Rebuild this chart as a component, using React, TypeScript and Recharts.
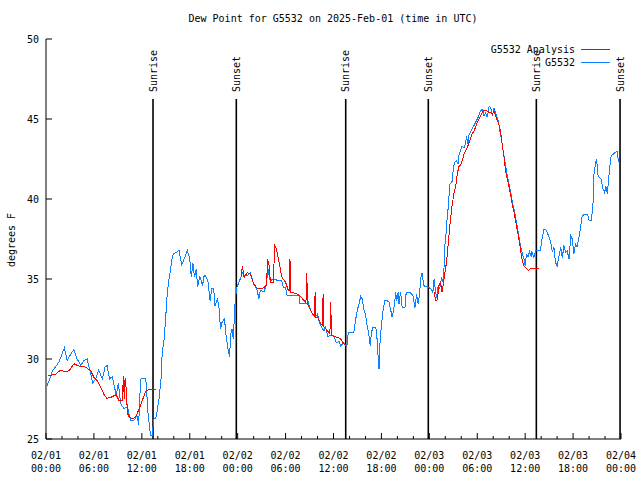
import React from "react";
import {
  LineChart,
  Line,
  XAxis,
  YAxis,
  ReferenceLine,
  Legend,
} from "recharts";

const FONT = '"DejaVu Sans Mono", monospace';
const BLUE = "#0c80ff";
const RED = "#ff0000";

// hours since 02/01 00:00 UTC
const majorHours = [0, 6, 12, 18, 24, 30, 36, 42, 48, 54, 60, 66, 72];
const dayLabels = ["02/01", "02/01", "02/01", "02/01", "02/02", "02/02", "02/02", "02/02", "02/03", "02/03", "02/03", "02/03", "02/04"];
const clockLabels = ["00:00", "06:00", "12:00", "18:00", "00:00", "06:00", "12:00", "18:00", "00:00", "06:00", "12:00", "18:00", "00:00"];
const minorHours = [0, 2, 4, 6, 8, 10, 12, 14, 16, 18, 20, 22, 24, 26, 28, 30, 32, 34, 36, 38, 40, 42, 44, 46, 48, 50, 52, 54, 56, 58, 60, 62, 64, 66, 68, 70, 72];
const yTicks = [25, 30, 35, 40, 45, 50];

const sunHours = [13.4, 23.83, 37.53, 47.87, 61.4, 71.88];
const sunLabels = ["Sunrise", "Sunset", "Sunrise", "Sunset", "Sunrise", "Sunset"];

// G5532 observations [hour, dew point F]
const stationObs: [number, number][] = [
  [0.1, 28.3], [0.5, 28.8], [0.85, 29.3], [1.2, 29.5], [1.6, 29.8], [2.0, 30.3], [2.3, 30.7], [2.65, 29.9],
  [3.1, 30.3], [3.5, 30.6], [3.9, 30.0], [4.35, 29.6], [4.75, 29.9], [5.15, 30.0], [5.55, 29.2], [5.85, 28.5],
  [6.2, 28.75], [6.6, 29.3], [7.05, 28.75], [7.4, 29.5], [7.65, 29.6], [7.95, 28.75], [8.3, 28.9], [8.6, 28.2],
  [8.8, 27.7], [9.05, 28.5], [9.35, 27.2], [9.75, 26.9], [10.2, 27.0], [10.6, 26.15], [11.0, 26.15], [11.4, 26.45],
  [11.6, 25.9], [11.85, 28.75], [12.25, 28.8], [12.5, 28.75], [12.8, 26.45], [13.1, 25.2], [13.3, 25.2], [13.5, 26.25],
  [13.75, 26.3], [13.9, 26.7], [14.15, 27.5], [14.4, 28.75], [14.55, 30.4], [14.8, 31.25], [15.0, 32.7], [15.2, 34.2],
  [15.4, 35.0], [15.6, 35.6], [15.8, 36.35], [16.0, 36.6], [16.45, 36.7], [16.65, 36.8], [17.0, 35.9], [17.3, 36.25],
  [17.7, 36.8], [18.0, 36.25], [18.2, 35.1], [18.4, 36.0], [18.6, 35.1], [18.8, 35.6], [19.0, 34.5], [19.25, 35.2],
  [19.6, 34.6], [19.8, 35.2], [20.0, 35.2], [20.3, 34.8], [20.55, 33.65], [20.75, 34.4], [21.0, 34.4], [21.15, 33.3],
  [21.45, 33.75], [21.65, 33.3], [21.85, 31.9], [22.05, 32.3], [22.35, 32.5], [22.55, 31.45], [22.8, 30.6], [23.0, 30.1],
  [23.1, 31.45], [23.3, 31.9], [23.45, 31.25], [23.65, 33.3], [23.85, 34.4], [24.15, 34.8], [24.4, 35.1], [24.6, 35.4],
  [24.8, 35.2], [25.2, 35.2], [25.6, 35.4], [26.0, 34.7], [26.45, 34.3], [26.65, 33.75], [26.85, 34.3], [27.3, 34.2],
  [27.6, 34.7], [27.8, 35.6], [28.1, 34.8], [28.35, 35.0], [28.75, 34.95], [29.2, 34.9], [29.5, 34.9], [29.7, 34.5],
  [30.0, 34.45], [30.2, 33.96], [30.6, 34.0], [31.05, 34.0], [31.7, 33.96], [31.75, 33.5], [32.3, 33.5], [32.6, 33.45],
  [32.85, 33.55], [33.1, 33.1], [33.35, 32.8], [33.7, 32.6], [34.0, 32.8], [34.2, 32.33], [34.5, 31.98], [34.8, 31.77],
  [35.0, 31.98], [35.3, 31.4], [35.65, 31.5], [36.05, 31.45], [36.35, 31.0], [36.7, 31.1], [36.9, 30.83], [37.3, 31.0],
  [37.5, 30.83], [37.7, 30.9], [37.85, 31.67], [38.55, 31.67], [38.75, 32.4], [39.0, 33.1], [39.2, 33.44], [39.4, 33.9],
  [39.6, 33.75], [39.8, 33.1], [40.0, 32.8], [40.2, 32.1], [40.45, 31.45], [40.6, 30.83], [40.75, 31.67], [40.95, 31.98],
  [41.3, 31.98], [41.5, 31.04], [41.6, 30.0], [41.7, 29.4], [41.8, 30.83], [42.0, 32.1], [42.2, 33.0], [42.4, 33.64],
  [42.75, 33.64], [42.95, 33.55], [43.15, 33.1], [43.35, 32.6], [43.6, 33.3], [43.8, 34.17], [43.9, 33.64], [44.1, 34.17],
  [44.2, 33.44], [44.4, 34.17], [44.6, 33.2], [44.95, 33.2], [45.1, 34.17], [45.65, 34.13], [45.95, 33.96], [46.2, 33.2],
  [46.4, 34.06], [46.6, 33.44], [46.8, 34.17], [46.9, 35.0], [47.1, 35.4], [47.3, 34.58], [47.75, 34.5], [48.2, 34.4],
  [48.45, 34.17], [48.6, 35.0], [48.8, 34.1], [49.0, 33.75], [49.1, 34.58], [49.3, 34.4], [49.55, 35.1], [49.7, 34.8],
  [49.85, 35.8], [49.95, 37.1], [50.1, 37.9], [50.25, 38.96], [50.4, 39.6], [50.55, 40.9], [50.7, 41.0], [50.85, 41.1],
  [51.0, 41.9], [51.15, 42.3], [51.4, 42.4], [51.6, 42.2], [51.7, 42.7], [51.9, 43.0], [52.1, 43.3], [52.35, 43.2],
  [52.55, 43.5], [52.65, 43.96], [52.85, 43.4], [52.95, 43.96], [53.15, 44.17], [53.35, 44.4], [53.6, 44.6], [53.8, 44.8],
  [54.0, 45.0], [54.2, 45.2], [54.4, 45.5], [54.6, 45.6], [54.85, 45.2], [55.05, 45.4], [55.25, 45.1], [55.5, 45.8],
  [55.7, 45.7], [55.9, 45.2], [56.1, 45.7], [56.3, 45.4], [56.5, 45.1], [56.7, 44.7], [56.9, 44.06], [57.1, 43.5],
  [57.35, 42.7], [57.55, 42.1], [57.75, 41.46], [57.95, 41.0], [58.2, 40.4], [58.4, 39.8], [58.6, 39.4], [58.8, 38.85],
  [59.0, 38.3], [59.2, 37.7], [59.4, 37.1], [59.6, 36.7], [59.85, 36.25], [60.0, 35.8], [60.15, 36.5], [60.35, 36.4],
  [60.55, 36.7], [60.75, 36.4], [60.85, 36.7], [61.1, 36.35], [61.3, 36.77], [61.9, 36.77], [62.1, 37.5], [62.35, 38.1],
  [62.55, 38.1], [62.75, 37.9], [62.95, 37.7], [63.2, 37.3], [63.4, 36.67], [63.6, 37.0], [63.8, 36.04], [64.0, 35.8],
  [64.2, 36.35], [64.45, 37.0], [64.65, 36.3], [64.85, 37.1], [65.05, 36.67], [65.25, 36.77], [65.5, 36.25], [65.7, 37.7],
  [65.9, 37.5], [66.1, 36.56], [66.3, 37.2], [66.5, 37.0], [66.7, 37.5], [66.9, 38.1], [67.1, 38.85], [67.35, 39.06],
  [67.55, 39.06], [67.85, 39.0], [68.0, 38.65], [68.3, 38.65], [68.5, 39.8], [68.6, 41.46], [68.8, 42.2], [68.95, 42.5],
  [69.1, 41.5], [69.3, 41.35], [69.5, 41.25], [69.7, 40.7], [69.95, 40.4], [70.1, 40.8], [70.3, 40.3], [70.4, 41.0],
  [70.6, 41.98], [70.7, 42.6], [70.9, 42.75], [71.25, 42.9], [71.5, 43.0], [71.7, 42.3],
];

// G5532 Analysis [hour, dew point F]; null marks a gap
const analysis: [number, number | null][] = [
  [0.3, 28.96], [1.2, 29.05], [1.8, 29.3], [2.45, 29.2], [2.9, 29.27], [3.5, 29.7], [4.1, 29.56], [4.75, 29.56],
  [5.2, 29.4], [5.6, 29.27], [6.0, 28.85], [6.4, 28.65], [6.85, 28.23], [7.25, 27.8], [7.6, 27.54], [8.1, 27.6],
  [8.5, 27.7], [8.8, 27.75], [9.15, 27.4], [9.55, 27.4], [9.7, 28.96], [9.8, 27.5], [9.9, 28.8], [10.05, 28.1],
  [10.2, 26.6], [10.4, 26.4], [10.8, 26.25], [11.2, 26.35], [11.6, 26.8], [12.05, 27.4], [12.5, 28.0], [12.9, 28.1],
  [13.8, 28.1], [14.0, null],
  [24.45, 35.2], [24.6, 35.83], [24.8, 35.1], [25.2, 35.4], [25.6, 35.3], [26.0, 34.7], [26.45, 34.4], [27.1, 34.4],
  [27.6, 34.6], [27.75, 36.15], [27.9, 36.0], [28.1, 34.8], [28.45, 34.8], [28.65, 37.1], [28.85, 36.9], [29.1, 36.25],
  [29.3, 35.73], [29.5, 35.2], [29.7, 35.0], [30.0, 34.8], [30.35, 34.27], [30.5, 34.3], [30.55, 36.25], [30.65, 34.17],
  [30.85, 34.17], [31.45, 34.06], [32.0, 33.85], [32.3, 33.65], [32.55, 33.5], [32.65, 35.4], [32.75, 33.44], [33.1, 33.1],
  [33.4, 32.8], [33.6, 32.7], [33.7, 34.17], [33.8, 32.6], [34.0, 32.6], [34.4, 32.2], [34.6, 32.1], [34.7, 34.06],
  [34.8, 32.0], [35.0, 31.9], [35.4, 31.67], [35.55, 31.6], [35.65, 33.54], [35.75, 31.46], [36.5, 31.35], [36.9, 31.25],
  [37.3, 30.94], [37.7, 30.83], [38.0, null],
  [48.6, 34.17], [48.8, 33.65], [49.0, 33.7], [49.2, 34.58], [49.4, 34.8], [49.6, 34.17], [49.75, 34.7], [49.95, 35.4],
  [50.15, 36.04], [50.4, 37.4], [50.6, 38.5], [50.75, 39.17], [50.85, 39.6], [51.1, 40.4], [51.3, 40.8], [51.5, 41.56],
  [51.7, 42.04], [51.9, 42.1], [52.1, 42.4], [52.35, 42.8], [52.55, 43.0], [52.75, 43.2], [52.95, 43.5], [53.15, 43.75],
  [53.35, 44.06], [53.6, 44.27], [53.8, 44.5], [54.0, 44.8], [54.2, 45.0], [54.4, 45.2], [54.6, 45.4], [54.85, 45.55],
  [55.25, 45.5], [55.5, 45.4], [55.7, 45.4], [55.9, 45.3], [56.1, 45.5], [56.3, 45.2], [56.5, 44.9], [56.7, 44.7],
  [56.9, 44.27], [57.1, 43.5], [57.35, 42.6], [57.55, 41.77], [57.75, 41.25], [57.95, 40.85], [58.2, 40.2], [58.4, 39.6],
  [58.6, 39.2], [58.8, 38.65], [59.0, 38.1], [59.2, 37.5], [59.4, 36.9], [59.6, 36.25], [59.85, 35.8], [60.05, 35.7],
  [60.25, 35.6], [60.45, 35.55], [60.65, 35.65], [61.1, 35.65], [61.5, 35.65], [61.7, 35.65],
];

const obsData = stationObs.map(([t, v]) => ({ t, v }));
const analysisData = analysis.map(([t, v]) => ({ t, v }));

const legendItems = [
  { label: "G5532 Analysis", color: RED },
  { label: "G5532", color: BLUE },
];

const textStyle = { fontFamily: FONT, fontSize: 10, fill: "#000" };

function BottomTick({ x, y, payload }: any) {
  const i = majorHours.indexOf(payload.value);
  return (
    <g>
      <line x1={x} x2={x} y1={y} y2={y - (i >= 0 ? 6 : 3)} stroke="#000" />
      {i >= 0 && (
        <text textAnchor="middle" {...textStyle}>
          <tspan x={x} y={y + 20}>{dayLabels[i]}</tspan>
          <tspan x={x} y={y + 33}>{clockLabels[i]}</tspan>
        </text>
      )}
    </g>
  );
}

function TopTick({ x, y, payload }: any) {
  const major = majorHours.includes(payload.value);
  return <line x1={x} x2={x} y1={y} y2={y + (major ? 6 : 3)} stroke="#000" />;
}

function LeftTick({ x, y, payload }: any) {
  return (
    <g>
      <line x1={x} x2={x + 6} y1={y} y2={y} stroke="#000" />
      <text x={x - 7} y={y} dy="0.35em" textAnchor="end" {...textStyle}>
        {payload.value}
      </text>
    </g>
  );
}

function RightTick({ x, y }: any) {
  return <line x1={x} x2={x - 6} y1={y} y2={y} stroke="#000" />;
}

function sunShape(label: string) {
  return (props: any) => {
    const { x1, y1, y2 } = props;
    const top = Math.min(y1, y2);
    const bottom = Math.max(y1, y2);
    return (
      <g>
        <line x1={x1} x2={x1} y1={top + 60} y2={bottom} stroke="#000" strokeWidth={1.6} />
        <text
          transform={`translate(${x1}, ${top + 53}) rotate(-90)`}
          dy="0.35em"
          textAnchor="start"
          {...textStyle}
        >
          {label}
        </text>
      </g>
    );
  };
}

function renderLegend() {
  return (
    <div style={{ fontFamily: FONT, fontSize: 10, lineHeight: "13px", color: "#000" }}>
      {legendItems.map((item) => (
        <div key={item.label} style={{ display: "flex", alignItems: "center" }}>
          <span style={{ width: 105, textAlign: "right", whiteSpace: "pre" }}>{item.label}</span>
          <span style={{ width: 29, height: 1, marginLeft: 6, background: item.color }} />
        </div>
      ))}
    </div>
  );
}

export default function App() {
  return (
    <div style={{ position: "absolute", left: 0, top: 0, background: "#fff" }}>
      <LineChart
        width={640}
        height={480}
        margin={{ top: 39, right: 19, bottom: 0, left: 0 }}
      >
        <text x={333} y={22} textAnchor="middle" {...textStyle}>
          Dew Point for G5532 on 2025-Feb-01 (time in UTC)
        </text>
        <text transform="translate(11, 240) rotate(-90)" textAnchor="middle" dy="0.35em" {...textStyle}>
          degrees F
        </text>
        <XAxis
          xAxisId="main"
          dataKey="t"
          type="number"
          domain={[0, 72]}
          ticks={minorHours}
          interval={0}
          height={41}
          tickSize={0}
          tickMargin={0}
          tickLine={false}
          axisLine={{ stroke: "#000" }}
          tick={<BottomTick />}
          allowDataOverflow
        />
        <XAxis
          xAxisId="top"
          orientation="top"
          dataKey="t"
          type="number"
          domain={[0, 72]}
          ticks={minorHours}
          interval={0}
          height={0}
          tickSize={0}
          tickMargin={0}
          tickLine={false}
          axisLine={{ stroke: "#000" }}
          tick={<TopTick />}
          allowDataOverflow
        />
        <YAxis
          yAxisId="main"
          type="number"
          domain={[25, 50]}
          ticks={yTicks}
          interval={0}
          width={46}
          tickSize={0}
          tickMargin={0}
          tickLine={false}
          axisLine={{ stroke: "#000" }}
          tick={<LeftTick />}
          allowDataOverflow
        />
        <YAxis
          yAxisId="right"
          orientation="right"
          type="number"
          domain={[25, 50]}
          ticks={yTicks}
          interval={0}
          width={0}
          tickSize={0}
          tickMargin={0}
          tickLine={false}
          axisLine={{ stroke: "#000" }}
          tick={<RightTick />}
          allowDataOverflow
        />
        {sunHours.map((h, i) => (
          <ReferenceLine
            key={h}
            xAxisId="main"
            yAxisId="main"
            x={h}
            shape={sunShape(sunLabels[i])}
          />
        ))}
        <Line
          xAxisId="main"
          yAxisId="main"
          data={obsData}
          dataKey="v"
          name="G5532"
          stroke={BLUE}
          strokeWidth={1}
          dot={false}
          type="linear"
          shapeRendering="crispEdges"
          isAnimationActive={false}
        />
        <Line
          xAxisId="main"
          yAxisId="main"
          data={analysisData}
          dataKey="v"
          name="G5532 Analysis"
          stroke={RED}
          strokeWidth={1}
          dot={false}
          type="linear"
          shapeRendering="crispEdges"
          isAnimationActive={false}
        />
        <Legend
          layout="horizontal"
          verticalAlign="middle"
          align="center"
          content={renderLegend}
          wrapperStyle={{ top: 43, left: 470, width: 150, height: 26 }}
        />
      </LineChart>
    </div>
  );
}
